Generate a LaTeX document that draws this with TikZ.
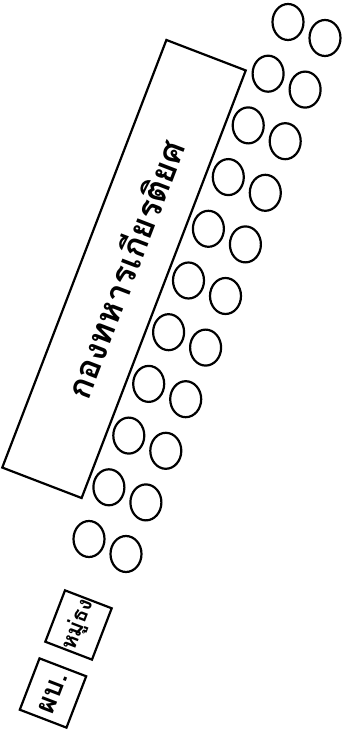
\documentclass[tikz,border=0pt]{standalone}
\usepackage{fontspec}
\newfontfamily\thaifont[Script=Thai]{Loma}
\usetikzlibrary{shapes.geometric}
\tikzstyle{guard} = [draw, line width=2.2pt, ellipse, minimum width=31pt, minimum height=36pt, inner sep=0pt]
\tikzstyle{block} = [draw, line width=2.2pt, rotate=69, inner sep=0pt]

\begin{document}
\begin{tikzpicture}[x=1pt, y=1pt]
        \useasboundingbox (0,0) rectangle (350,742);

        % honour guard
        \node[block, minimum width=458pt, minimum height=85pt, font=\thaifont\bfseries\fontsize{34}{40}\selectfont] (honour) at (124,473) {กองทหารเกียรติยศ};

        \foreach \i in {0,...,10}{
            \node[guard] (inner\i) at ({288-19.9*\i},{720-51.7*\i}) {};
            \node[guard] (outer\i) at ({325-19.9*\i},{704-51.6*\i}) {};
        }

        % flag squad and commander
        \node[block, minimum width=55pt, minimum height=50pt, font=\thaifont\bfseries\fontsize{22}{26}\selectfont] (flag) at (78.5,117) {หมู่ธง};
        \node[block, minimum width=55pt, minimum height=50pt, font=\thaifont\bfseries\fontsize{28}{32}\selectfont] (cmd) at (53,49) {ผบ.};

    \end{tikzpicture}
\end{document}
